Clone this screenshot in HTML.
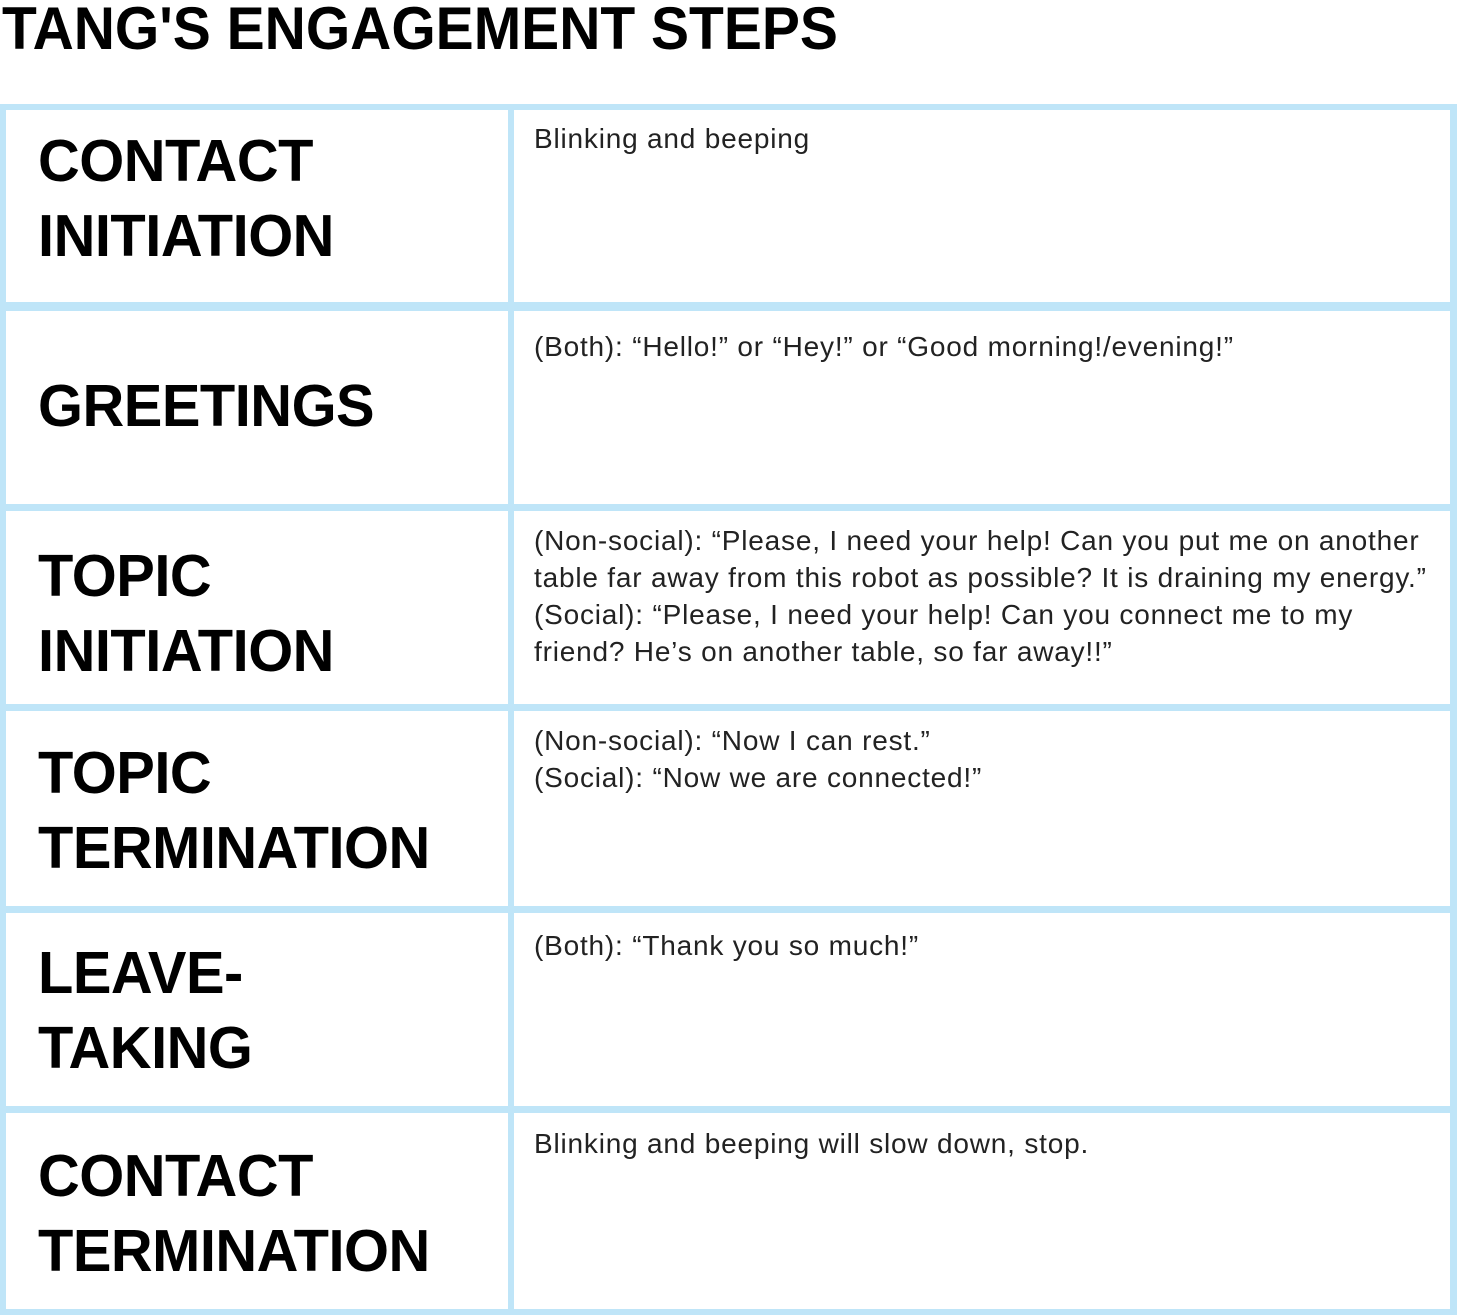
<!DOCTYPE html>
<html><head><meta charset="utf-8"><style>
body{margin:0;width:1457px;height:1315px;background:#fff;position:relative;overflow:hidden;font-family:"Liberation Sans",sans-serif}
.t{position:absolute;left:2px;top:-6px;font-weight:bold;font-size:60px;transform:scaleX(0.95);transform-origin:0 0;white-space:nowrap;color:#000}
.grid{position:absolute;left:0;top:104px;width:1457px;height:1211px;background:#bfe5f8}
.c{position:absolute;background:#fff}
.h{position:absolute;left:38px;font-weight:bold;font-size:59px;letter-spacing:-0.5px;color:#000;white-space:nowrap;line-height:75px;transform:scaleX(0.98);transform-origin:0 0}
.b{position:absolute;left:534px;font-size:28px;letter-spacing:0.8px;line-height:37px;color:#222;white-space:nowrap}
</style></head><body>
<div class="t">TANG'S ENGAGEMENT STEPS</div>
<div class="grid"></div>
<div class="c" style="left:6px;top:110px;width:502px;height:192px"></div>
<div class="c" style="left:514px;top:110px;width:936px;height:192px"></div>
<div class="c" style="left:6px;top:311px;width:502px;height:193px"></div>
<div class="c" style="left:514px;top:311px;width:936px;height:193px"></div>
<div class="c" style="left:6px;top:511px;width:502px;height:193px"></div>
<div class="c" style="left:514px;top:511px;width:936px;height:193px"></div>
<div class="c" style="left:6px;top:711px;width:502px;height:195px"></div>
<div class="c" style="left:514px;top:711px;width:936px;height:195px"></div>
<div class="c" style="left:6px;top:913px;width:502px;height:193px"></div>
<div class="c" style="left:514px;top:913px;width:936px;height:193px"></div>
<div class="c" style="left:6px;top:1113px;width:502px;height:196px"></div>
<div class="c" style="left:514px;top:1113px;width:936px;height:196px"></div>

<div class="h" style="top:124px">CONTACT<br>INITIATION</div>
<div class="h" style="top:369px">GREETINGS</div>
<div class="h" style="top:539px">TOPIC<br>INITIATION</div>
<div class="h" style="top:736px">TOPIC<br>TERMINATION</div>
<div class="h" style="top:936px">LEAVE-<br>TAKING</div>
<div class="h" style="top:1139px">CONTACT<br>TERMINATION</div>

<div class="b" style="top:120px">Blinking and beeping</div>
<div class="b" style="top:328px">(Both): “Hello!” or “Hey!” or “Good morning!/evening!”</div>
<div class="b" style="top:522px">(Non-social): “Please, I need your help! Can you put me on another<br>table far away from this robot as possible? It is draining my energy.”<br>(Social): “Please, I need your help! Can you connect me to my<br>friend? He’s on another table, so far away!!”</div>
<div class="b" style="top:722px">(Non-social): “Now I can rest.”<br>(Social): “Now we are connected!”</div>
<div class="b" style="top:927px">(Both): “Thank you so much!”</div>
<div class="b" style="top:1125px">Blinking and beeping will slow down, stop.</div>
</body></html>
